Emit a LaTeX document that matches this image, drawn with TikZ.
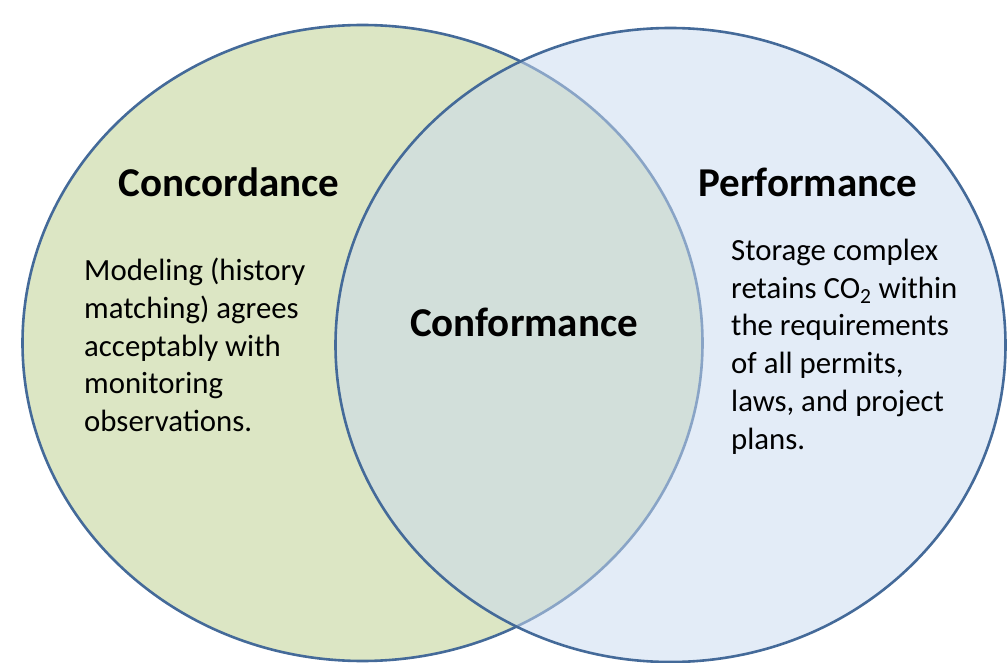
\documentclass[tikz,border=0pt]{standalone}
\usepackage{fontspec}
\setmainfont{Carlito}
\begin{document}
\definecolor{rimblue}{RGB}{68,106,153}
\definecolor{leafgreen}{RGB}{220,230,196}
\definecolor{skyblue}{RGB}{201,218,240}
\begin{tikzpicture}[x=1pt,y=-1pt,
  rim/.style={draw=rimblue,line width=2.6pt},
  heading/.style={font=\bfseries\fontsize{41}{48}\selectfont,inner sep=0pt},
  body/.style={font=\fontsize{30.8}{37.7}\selectfont,align=left,anchor=north west,inner sep=0pt}]
  \useasboundingbox (0,0) rectangle (1007,663);
  % left set
  \path[rim,fill=leafgreen] (362.5,343) ellipse [x radius=340, y radius=318];
  % right set, translucent so the overlap tints
  \path[fill=skyblue,fill opacity=0.52] (670.5,345) ellipse [x radius=335, y radius=317];
  \path[rim] (670.5,345) ellipse [x radius=335, y radius=317];
  % labels
  \node[heading] (conc) at (229,182) {Concordance};
  \node[heading] (perf) at (808,182) {Performance};
  \node[heading] (conf) at (524,322) {Conformance};
  \node[body] (concText) at (84,258) {Modeling (history\\matching) agrees\\acceptably with\\monitoring\\observations.};
  \node[body] (perfText) at (731,239) {Storage complex\\retains CO\textsubscript{2} within\\the requirements\\of all permits,\\laws, and project\\plans.};
\end{tikzpicture}
\end{document}
